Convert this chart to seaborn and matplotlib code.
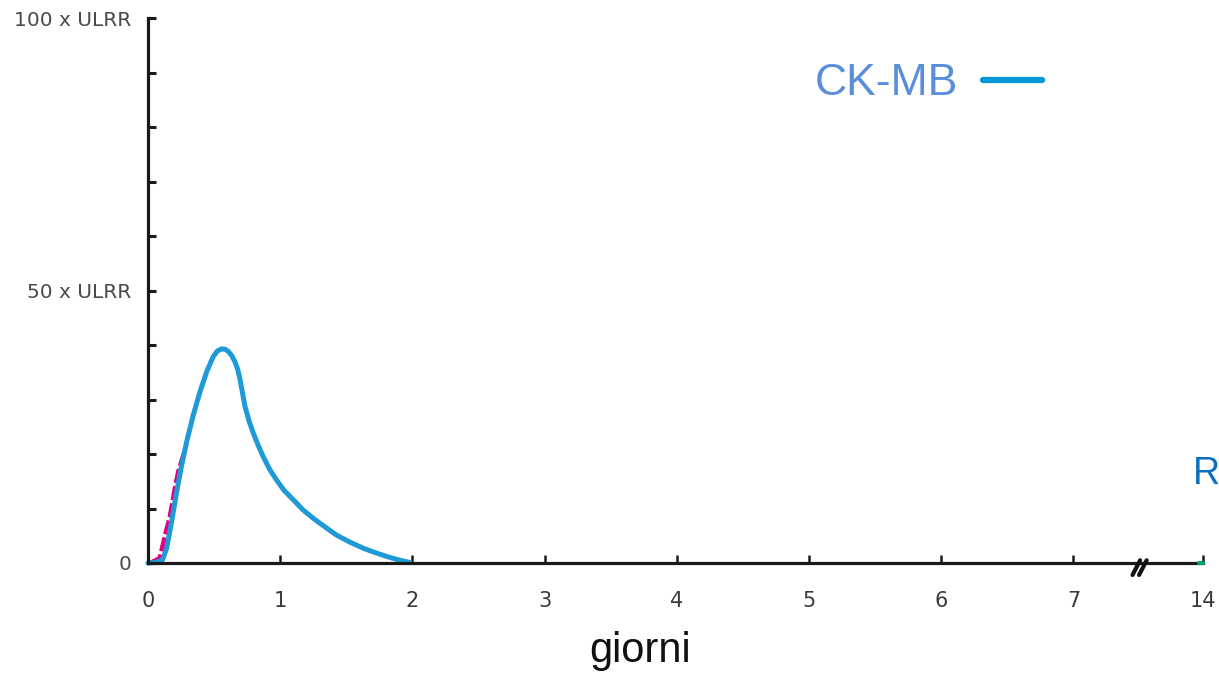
import numpy as np
import pandas as pd
import matplotlib
matplotlib.use("Agg")
import matplotlib.pyplot as plt
from matplotlib.lines import Line2D
import seaborn as sns

# CK-MB release curve (multiples of the upper reference limit) over days
ckmb_days = [0.00, 0.06, 0.11, 0.141, 0.179, 0.217, 0.255, 0.293, 0.343,
             0.393, 0.444, 0.494, 0.525, 0.557, 0.585, 0.608, 0.635, 0.658,
             0.680, 0.696, 0.715, 0.734, 0.765, 0.797, 0.835, 0.872, 0.92,
             0.973, 1.03, 1.099, 1.17, 1.250, 1.34, 1.427, 1.53, 1.629, 1.72,
             1.805, 1.89, 1.98]
ckmb_vals = [0.0, 0.1, 0.6, 2.7, 7.6, 13.1, 18.0, 22.3, 27.2,
             31.4, 35.1, 37.9, 38.9, 39.3, 39.2, 38.8, 38.0, 36.9,
             35.4, 33.7, 31.2, 28.7, 26.0, 23.8, 21.5, 19.5, 17.2,
             15.2, 13.3, 11.6, 9.8, 8.2, 6.6, 5.1, 3.8, 2.7, 1.9,
             1.2, 0.6, 0.1]

# early rising segment of a second marker (dashed)
early_days = [0.02, 0.09, 0.13, 0.166, 0.204, 0.23, 0.28]
early_vals = [0.0, 0.9, 5.1, 8.5, 13.7, 16.8, 20.7]

# tail segment at the far end of the axis
tail_days = [13.6, 14.0]
tail_vals = [0.0, 0.0]

x_ticks = [0, 1, 2, 3, 4, 5, 6, 7, 14]
x_ticklabels = ["0", "1", "2", "3", "4", "5", "6", "7", "14"]
y_ticks = [0, 10, 20, 30, 40, 50, 60, 70, 80, 90, 100]
y_ticklabels = ["0", "", "", "", "", "50 x ULRR", "", "", "", "", "100 x ULRR"]

BREAK = 7.5
SQUEEZE = 0.0739


def fwd(x):
    x = np.asarray(x, dtype=float)
    return np.where(x <= BREAK, x, BREAK + (x - BREAK) * SQUEEZE)


def inv(u):
    u = np.asarray(u, dtype=float)
    return np.where(u <= BREAK, u, BREAK + (u - BREAK) / SQUEEZE)


sns.set_style("ticks")
plt.rcParams["font.family"] = ["DejaVu Sans"]

fig = plt.figure(figsize=(12.19, 6.75), dpi=100)
ax = fig.add_axes([148 / 1219, 1 - 563 / 675, 1055 / 1219, 545 / 675])
ax.set_xscale("function", functions=(fwd, inv))

early = pd.DataFrame({"giorni": early_days, "valore": early_vals})
ckmb = pd.DataFrame({"giorni": ckmb_days, "valore": ckmb_vals})
tail = pd.DataFrame({"giorni": tail_days, "valore": tail_vals})

sns.lineplot(data=early, x="giorni", y="valore", ax=ax, color="#e5007d",
             lw=3.4, linestyle=(0, (3.0, 0.7)), sort=False, clip_on=False,
             zorder=2)
sns.lineplot(data=ckmb, x="giorni", y="valore", ax=ax, color="#1f9ad8",
             lw=3.6, sort=False, solid_capstyle="round",
             solid_joinstyle="round", clip_on=False, zorder=3)
sns.lineplot(data=tail, x="giorni", y="valore", ax=ax, color="#00a36c",
             lw=3.0, sort=False, clip_on=False, zorder=5)

ax.set_xlim(0, 14)
ax.set_ylim(0, 100)
ax.set_xticks(x_ticks)
ax.set_xticklabels(x_ticklabels)
ax.set_yticks(y_ticks)
ax.set_yticklabels(y_ticklabels)
ax.set_xlabel("")
ax.set_ylabel("")

for side in ("top", "right"):
    ax.spines[side].set_visible(False)
for side in ("left", "bottom"):
    ax.spines[side].set_linewidth(2.3)
    ax.spines[side].set_color("#1a1a1a")
    ax.spines[side].set_zorder(4)

ax.tick_params(axis="x", direction="in", length=6, width=1.8, color="#1a1a1a",
               pad=20, labelsize=15, labelcolor="#3a3a3a")
ax.tick_params(axis="y", direction="in", length=6, width=2.2, color="#1a1a1a",
               pad=12, labelsize=14.5, labelcolor="#4a4a4a")

# axis break marks
for dx in (0.0, 0.0062):
    ax.add_line(Line2D([0.9332 + dx, 0.9404 + dx], [-0.022, 0.005],
                       transform=ax.transAxes, color="#111111", lw=3.0,
                       clip_on=False, zorder=6))

fig.text(640 / 1219, 1 - 662 / 675, "giorni", ha="center", va="baseline",
         fontsize=30, family=["Liberation Sans"], color="#111111")

# legend entry
fig.text(815 / 1219, 1 - 95 / 675, "CK-MB", ha="left", va="baseline",
         fontsize=32, family=["Liberation Sans"], color="#5a8edb")
fig.add_artist(Line2D([983 / 1219, 1042 / 1219], [1 - 80 / 675, 1 - 80 / 675],
                      color="#0096d6", lw=4.5))

fig.text(1193 / 1219, 1 - 484 / 675, "R", ha="left", va="baseline",
         fontsize=27, family=["Liberation Sans"], color="#0a6fc2")

fig.savefig("out.png", dpi=100, facecolor="white")
